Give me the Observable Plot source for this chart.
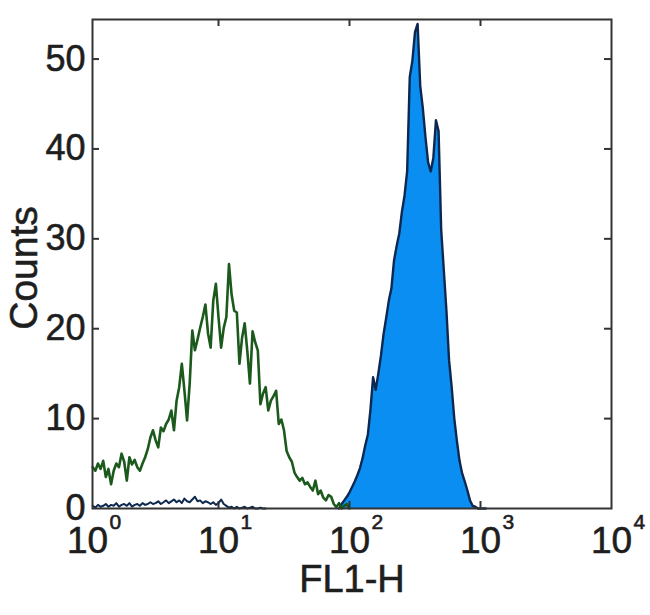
<!DOCTYPE html>
<html>
<head>
<meta charset="utf-8">
<script src="https://cdn.jsdelivr.net/npm/d3@7"></script>
<script src="https://cdn.jsdelivr.net/npm/@observablehq/plot@0.6"></script>
<style>
  body { margin: 0; background: #ffffff; }
  #chart { width: 650px; height: 615px; }
</style>
</head>
<body>
<div id="chart"></div>
<script>
// Log channel grid: 50 channels per decade, channel k sits at 10^(k/50)
const channelsPerDecade = 50;

// Isotype control (green outline), channels 2..100
const greenStart = 2;
const greenCounts = [
  4.6,4.2,5.0,4.4,5.3,3.5,4.4,2.7,4.2,5.0,
  4.6,6.1,5.2,3.1,5.7,4.9,5.4,4.6,4.2,5.0,
  5.7,6.6,7.9,8.7,7.6,6.8,9.0,8.6,9.4,9.9,
  10.9,8.7,12.0,13.5,16.1,13.1,9.8,13.9,19.8,17.6,
  18.8,20.1,21.3,22.7,19.5,17.9,23.1,25.0,21.3,17.9,
  20.1,21.3,27.2,23.8,22.0,21.8,16.1,19.0,20.6,17.5,
  13.9,19.7,18.5,17.6,11.6,12.8,13.5,10.9,12.0,12.5,
  13.1,9.4,9.9,8.7,6.4,5.7,5.2,4.0,3.5,3.1,
  3.4,2.7,2.9,2.4,2.0,3.1,1.6,2.0,1.2,0.9,
  1.5,1.3,0.5,0.15,0.6,0,0.3,0.5,0
];

// Stained sample (blue filled): low-level events, channels 2..68
const blueLowStart = 2;
const blueLowCounts = [
  0.3,0.1,0.4,0.2,0.3,0.5,0.2,0.4,0.3,0.6,0.2,
  0.4,0.5,0.3,0.6,0.2,0.4,0.5,0.3,0.6,0.4,0.5,
  0.7,0.5,0.6,0.8,0.5,0.7,0.9,0.6,0.8,1.0,0.7,0.9,0.6,1.1,0.8,
  0.7,1.0,1.3,0.8,0.9,0.6,0.8,0.7,0.5,0.7,0.4,0.6,1.0,0.5,
  0.3,0.1,0.2,0,0.2,0,0.1,0.2,0,0.1,0.2,0,0,0.1,0,0
];

// Stained sample main peak, channels 96..152
const bluePeakStart = 96;
const bluePeakCounts = [
  0,0.5,0.9,1.3,1.8,2.4,3.0,3.7,4.5,5.6,
  7.0,8.2,11.0,14.6,13.2,15.0,17.0,19.4,21.2,23.1,
  24.5,27.6,29.2,30.6,33.0,34.8,37.5,48.0,49.8,53.0,
  53.9,47.0,44.5,41.3,38.5,37.5,39.0,43.2,42.0,31.0,
  26.5,22.0,16.5,13.5,10.0,7.5,5.3,3.9,3.0,2.0,
  0.9,0.3,0.2,0,0,0,0
];

// Axis ticks
const xTicks = [1, 10, 100, 1000, 10000];
const xTickExponents = ["0", "1", "2", "3", "4"];
const xInnerTicks = [10, 100, 1000];
const yTicks = [0, 10, 20, 30, 40, 50];
const yInnerTicks = [10, 20, 30, 40, 50];

const toSeries = (start, counts) =>
  counts.map((c, i) => ({ x: Math.pow(10, (start + i) / channelsPerDecade), y: c }));

const green = toSeries(greenStart, greenCounts);
const blueLow = toSeries(blueLowStart, blueLowCounts);
const bluePeak = toSeries(bluePeakStart, bluePeakCounts);

const frameColor = "#333333";
const textColor = "#1e1e1e";
const textWeight = { fill: textColor, stroke: textColor, strokeWidth: 0.6 };

const chart = Plot.plot({
  width: 650,
  height: 615,
  marginLeft: 92,
  marginRight: 39,
  marginTop: 19,
  marginBottom: 107,
  style: { fontFamily: "'Liberation Sans', Arial, sans-serif", background: "#ffffff", color: textColor },
  x: { type: "log", domain: [Math.pow(10, 5 / 131), 10000], axis: null },
  y: { domain: [0, 54.4], axis: null },
  marks: [
    Plot.areaY(bluePeak, { x: "x", y: "y", fill: "#0b8ef2" }),
    Plot.lineY(blueLow, { x: "x", y: "y", stroke: "#0c2850", strokeWidth: 2 }),
    Plot.lineY(bluePeak, { x: "x", y: "y", stroke: "#0c2850", strokeWidth: 2.4 }),
    Plot.lineY(green, { x: "x", y: "y", stroke: "#1b5a1c", strokeWidth: 2.6 }),
    Plot.frame({ stroke: frameColor, strokeWidth: 2 }),
    // inward ticks on all four sides
    Plot.tickX(xInnerTicks, { x: d => d, insetTop: 482, stroke: frameColor, strokeWidth: 2 }),
    Plot.tickX(xInnerTicks, { x: d => d, insetBottom: 482, stroke: frameColor, strokeWidth: 2 }),
    Plot.tickY(yInnerTicks, { y: d => d, insetRight: 512, stroke: frameColor, strokeWidth: 2 }),
    Plot.tickY(yInnerTicks, { y: d => d, insetLeft: 512, stroke: frameColor, strokeWidth: 2 }),
    // y tick labels
    Plot.text(yTicks, { y: d => d, text: d => String(d), frameAnchor: "left", dx: -7,
                        textAnchor: "end", lineAnchor: "middle", fontSize: 36, ...textWeight }),
    // x tick labels: "10" with raised exponent
    Plot.text(xTicks, { x: d => d, text: () => "10", frameAnchor: "bottom", dy: 33,
                        textAnchor: "middle", lineAnchor: "middle", fontSize: 37, ...textWeight }),
    Plot.text(xTicks, { x: d => d, text: (d, i) => xTickExponents[i], frameAnchor: "bottom",
                        dy: 14, dx: 22, textAnchor: "start", lineAnchor: "middle", fontSize: 21, ...textWeight }),
    // axis titles
    Plot.text(["FL1-H"], { text: d => d, frameAnchor: "bottom", dy: 71, textAnchor: "middle",
                           lineAnchor: "middle", fontSize: 38, ...textWeight }),
    Plot.text(["Counts"], { text: d => d, frameAnchor: "left", rotate: -90, dx: -68, dy: 4,
                            textAnchor: "middle", lineAnchor: "middle", fontSize: 39, ...textWeight })
  ]
});

document.getElementById("chart").appendChild(chart);
</script>
</body>
</html>
